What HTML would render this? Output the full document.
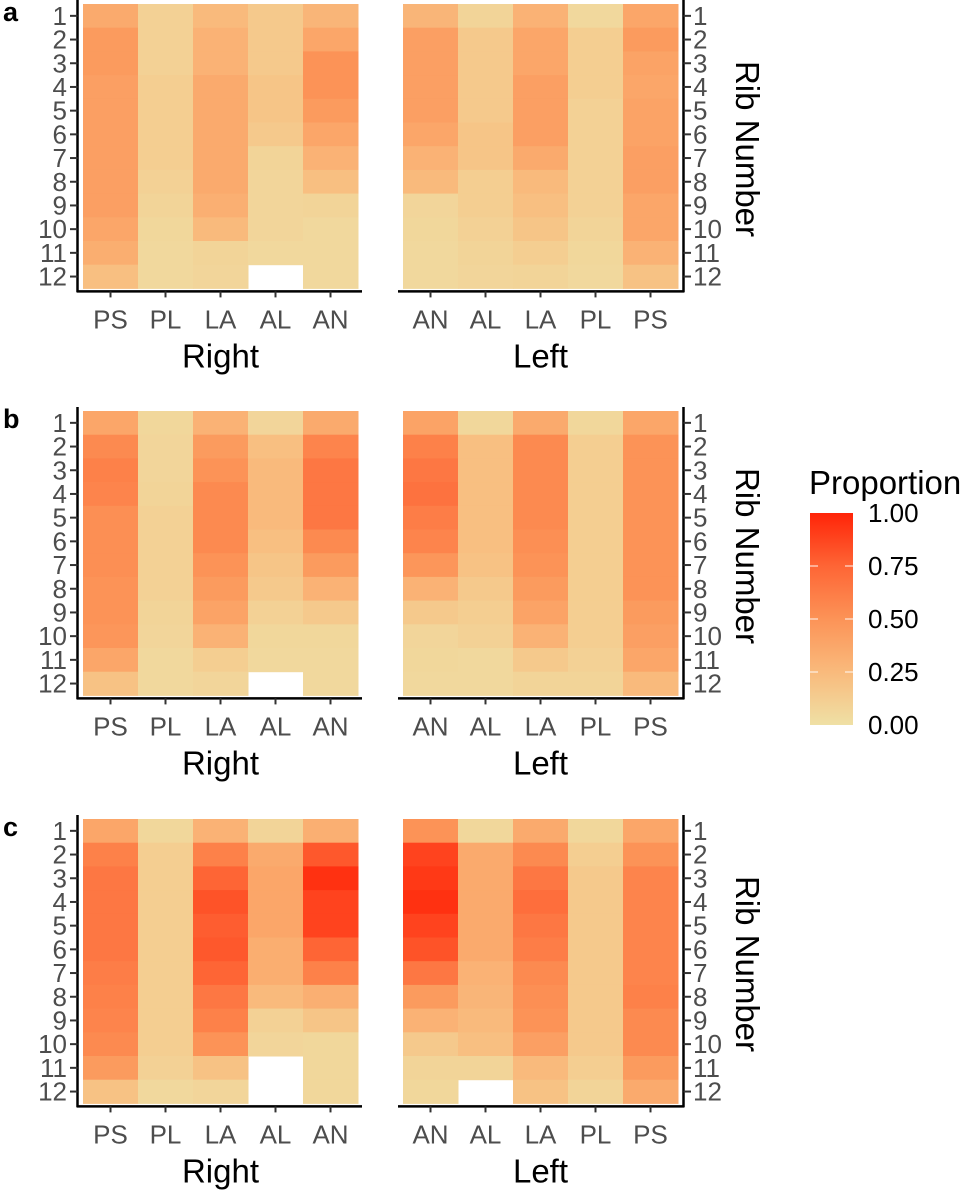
<!DOCTYPE html>
<html><head><meta charset="utf-8"><style>
html,body{margin:0;padding:0;background:#fff;}
svg{display:block;font-family:"Liberation Sans",sans-serif;}
</style></head><body>
<svg id="chart" width="968" height="1190" viewBox="0 0 968 1190" xmlns="http://www.w3.org/2000/svg"></svg>
<script>
const rightCats = ["PS","PL","LA","AL","AN"];
const leftCats = ["AN","AL","LA","PL","PS"];
const ribs = [1,2,3,4,5,6,7,8,9,10,11,12];
const legendTicks = [0,0.25,0.5,0.75,1];
const legendLabels = ["0.00","0.25","0.50","0.75","1.00"];
const panelLetters = ["a","b","c"];
// panel a
const aRight = [
 [.35,.45,.45,.42,.42,.42,.42,.42,.42,.38,.33,.22],
 [.10,.10,.10,.12,.12,.12,.12,.10,.08,.06,.05,.05],
 [.25,.30,.30,.35,.35,.35,.35,.35,.32,.25,.08,.07],
 [.15,.15,.15,.18,.18,.15,.08,.07,.07,.07,.05,null],
 [.28,.38,.50,.50,.45,.38,.30,.22,.08,.05,.05,.05]];
const aLeft = [
 [.28,.42,.42,.42,.42,.38,.30,.25,.07,.06,.05,.05],
 [.08,.15,.15,.15,.15,.18,.18,.12,.12,.10,.08,.07],
 [.30,.38,.38,.42,.42,.42,.35,.25,.22,.18,.12,.08],
 [.05,.12,.12,.12,.10,.10,.10,.10,.10,.08,.06,.05],
 [.38,.45,.40,.38,.40,.40,.42,.42,.38,.38,.30,.20]];
// panel b
const bRight = [
 [.38,.55,.60,.58,.52,.52,.52,.50,.50,.48,.38,.20],
 [.06,.07,.07,.08,.10,.10,.10,.10,.08,.07,.05,.05],
 [.30,.45,.50,.55,.55,.55,.50,.45,.40,.30,.12,.07],
 [.07,.22,.25,.25,.25,.22,.18,.15,.10,.06,.05,null],
 [.35,.58,.65,.65,.65,.55,.45,.30,.15,.06,.05,.05]];
const bLeft = [
 [.40,.60,.65,.68,.62,.58,.48,.30,.15,.07,.06,.05],
 [.06,.22,.22,.22,.22,.22,.20,.15,.12,.10,.05,.05],
 [.35,.55,.55,.55,.55,.52,.50,.45,.40,.30,.15,.08],
 [.06,.12,.12,.12,.12,.12,.12,.12,.12,.12,.10,.08],
 [.38,.50,.50,.50,.50,.50,.50,.50,.45,.42,.38,.25]];
// panel c
const cRight = [
 [.38,.60,.65,.65,.65,.65,.62,.60,.58,.55,.45,.20],
 [.06,.12,.12,.12,.12,.12,.12,.12,.12,.12,.10,.05],
 [.30,.60,.75,.82,.78,.80,.75,.65,.60,.50,.20,.07],
 [.08,.35,.38,.38,.38,.33,.33,.25,.10,.07,null,null],
 [.32,.80,.95,.88,.88,.75,.60,.32,.18,.06,.06,.06]];
const cLeft = [
 [.50,.88,.92,.95,.88,.82,.65,.45,.30,.15,.08,.06],
 [.06,.35,.35,.35,.35,.35,.30,.28,.25,.22,.08,null],
 [.35,.55,.65,.70,.65,.62,.55,.52,.50,.42,.25,.20],
 [.06,.12,.15,.15,.15,.15,.15,.15,.15,.15,.12,.08],
 [.38,.50,.58,.58,.58,.58,.58,.60,.55,.55,.45,.35]];

const NS="http://www.w3.org/2000/svg";
const svg=document.getElementById('chart');
function mk(tag,attrs,parent){const e=document.createElementNS(NS,tag);for(const k in attrs)e.setAttribute(k,attrs[k]);(parent||svg).appendChild(e);return e;}
const stops=[[0,[239,224,165]],[0.25,[249,186,124]],[0.5,[252,147,87]],[0.75,[254,101,53]],[1,[255,36,8]]];
function color(v){
  for(let i=0;i<stops.length-1;i++){const a=stops[i],b=stops[i+1];
    if(v<=b[0]){const t=(v-a[0])/(b[0]-a[0]);return 'rgb('+a[1].map((c,j)=>Math.round(c+(b[1][j]-c)*t)).join(',')+')';}}
  return 'rgb(255,36,8)';
}
const cellW=55, cellH=23.7;
const panels=[{top:4,r:aRight,l:aLeft},{top:411,r:bRight,l:bLeft},{top:819,r:cRight,l:cLeft}];
function xScale(x0,i){return x0+i*cellW;}
function yScale(top,r){return top+r*cellH;}

panels.forEach((p,pi)=>{
  const g=mk('g',{});
  
  
  const bottom=p.top+12*cellH;
  const axisY=bottom+3;
  const lt=mk('text',{x:3,y:p.top+17,'font-size':27,'font-weight':'bold',fill:'#000'},g);
  lt.textContent=panelLetters[pi];
  
  
  [[83,p.r,rightCats,'Right'],[403,p.l,leftCats,'Left']].forEach(([x0,data,cats,title],si)=>{
    const sg=mk('g',{},g);
    
    
    data.forEach((col,ci)=>{col.forEach((v,ri)=>{
      if(v===null)return;
      const r=mk('rect',{x:xScale(x0,ci),y:yScale(p.top,ri),width:cellW+0.5,height:cellH+0.5,fill:color(v)},sg);
      
      
    });});
    const ax0= si===0?77:398, ax1= si===0?362:684;
    const xl=mk('line',{x1:ax0,y1:axisY,x2:ax1,y2:axisY,stroke:'#000','stroke-width':2.5},sg);
    
    
    cats.forEach((c,ci)=>{
      const cx=xScale(x0,ci)+cellW/2;
      mk('line',{x1:cx,y1:axisY,x2:cx,y2:axisY+6,stroke:'#333','stroke-width':2},sg);
      const t=mk('text',{x:cx,y:axisY+37,'font-size':26,fill:'#4d4d4d','text-anchor':'middle'},sg);
      t.textContent=c;
      
      
    });
    const tt=mk('text',{x:x0+cellW*2.5,y:axisY+76,'font-size':33,fill:'#000','text-anchor':'middle'},sg);
    tt.textContent=title;
    
    
    const yx= si===0?77.5:683.5;
    const yl=mk('line',{x1:yx,y1:p.top-4,x2:yx,y2:axisY+1,stroke:'#000','stroke-width':2.5},sg);
    
    
    ribs.forEach((rb,ri)=>{
      const cy=yScale(p.top,ri)+cellH/2;
      if(si===0){
        mk('line',{x1:70,y1:cy,x2:yx,y2:cy,stroke:'#333','stroke-width':2},sg);
        const t=mk('text',{x:67,y:cy+9,'font-size':26,fill:'#4d4d4d','text-anchor':'end'},sg);
        t.textContent=rb;
        
        
      } else {
        mk('line',{x1:yx,y1:cy,x2:691,y2:cy,stroke:'#333','stroke-width':2},sg);
        const t=mk('text',{x:693,y:cy+9,'font-size':26,fill:'#4d4d4d','text-anchor':'start'},sg);
        t.textContent=rb;
        
        
      }
    });
  });
  const cy=p.top+145;
  const rt=mk('text',{x:0,y:0,'font-size':33,fill:'#000','text-anchor':'middle',transform:'translate(736,'+cy+') rotate(90)'},g);
  rt.textContent='Rib Number';
  
  
});

const lg=mk('g',{});


const defs=mk('defs',{},lg);
const grad=mk('linearGradient',{id:'lgGrad',x1:0,y1:1,x2:0,y2:0},defs);
stops.forEach(s=>mk('stop',{offset:s[0],'stop-color':'rgb('+s[1].join(',')+')'},grad));
const lgTop=513, lgBot=725;
const lt=mk('text',{x:809,y:494,'font-size':33,fill:'#000'},lg);
lt.textContent='Proportion';


const bar=mk('rect',{x:810,y:lgTop,width:43,height:lgBot-lgTop,fill:'url(#lgGrad)'},lg);


legendTicks.forEach((v,i)=>{
  const y=lgBot-v*(lgBot-lgTop);
  if(v>0&&v<1){
    mk('line',{x1:810,y1:y,x2:818,y2:y,stroke:'#fff','stroke-width':1.2,opacity:.8},lg);
    mk('line',{x1:845,y1:y,x2:853,y2:y,stroke:'#fff','stroke-width':1.2,opacity:.8},lg);
  }
  const t=mk('text',{x:868,y:y+9,'font-size':26,fill:'#000'},lg);
  t.textContent=legendLabels[i];
  
  
});
</script>
</body></html>
